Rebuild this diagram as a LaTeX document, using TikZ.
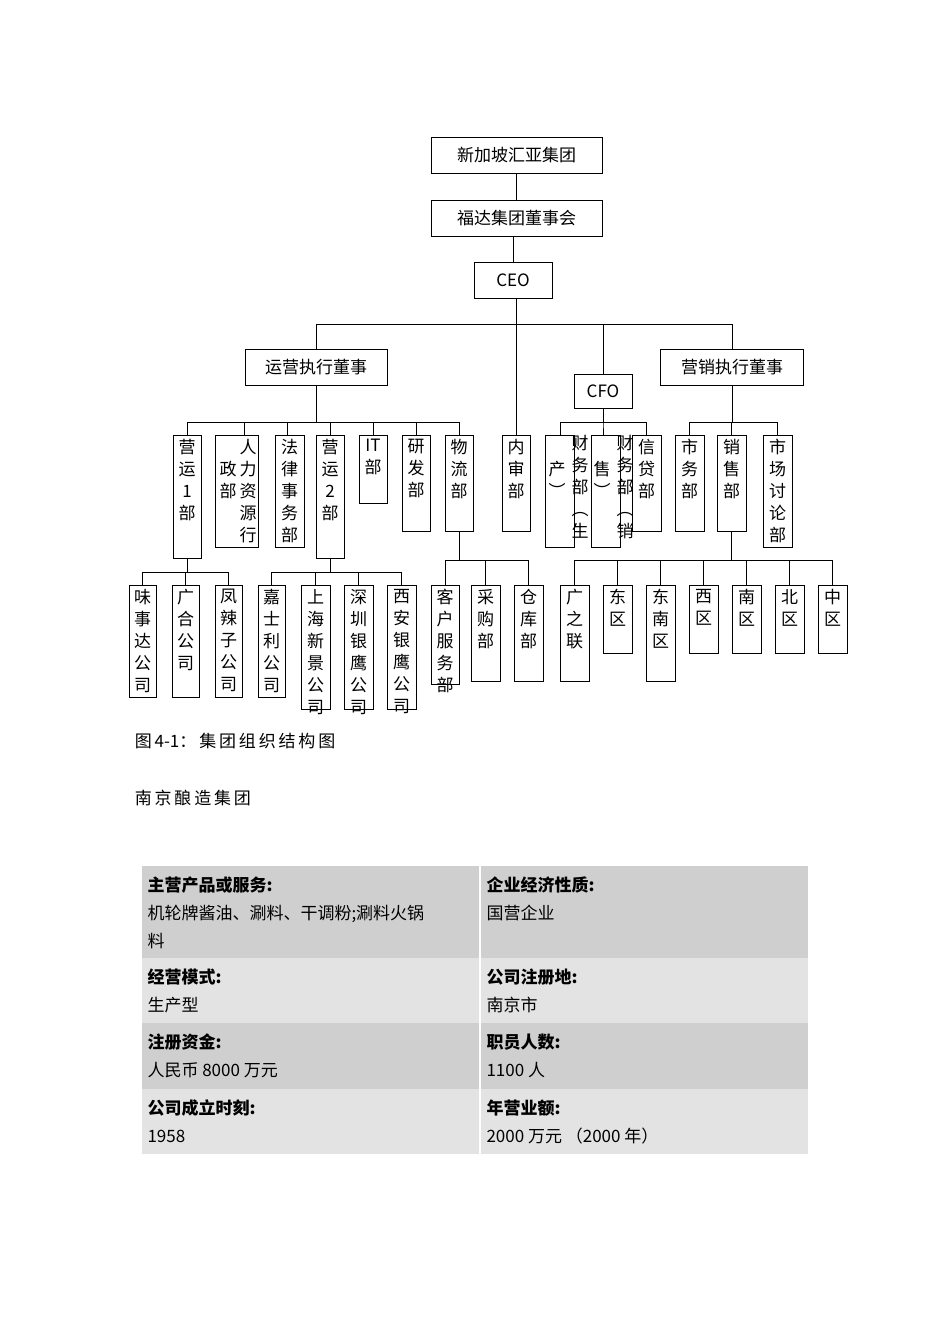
\documentclass[tikz,border=0pt]{standalone}
\usepackage{fontspec}
\setmainfont{Noto Sans CJK SC}
\begin{document}
\begin{tikzpicture}[x=1pt,y=-1pt,line width=1pt,
  bx/.style={draw,rectangle,inner sep=0pt},
  vt/.style={inner sep=0pt,align=center,font=\fontsize{17}{22}\selectfont,anchor=north},
  ht/.style={font=\fontsize{17}{20}\selectfont}]
\useasboundingbox (0,0) rectangle (950,1344);
\newcommand{\cb}[6]{\node[bx,minimum width=#4,minimum height=#5,anchor=north] (#1) at (#2,#3) {};
 \node[vt] at ([yshift=-4]#1.north) {#6};}
% top
\node[bx,minimum width=171,minimum height=36,ht] (a) at (516.5,155) {新加坡汇亚集团};
\node[bx,minimum width=171,minimum height=36,ht] (b) at (516.5,218) {福达集团董事会};
\node[bx,minimum width=78,minimum height=36,ht] (ceo) at (513,280) {CEO};
\node[bx,minimum width=142,minimum height=36,ht] (yy) at (316,367) {运营执行董事};
\node[bx,minimum width=58,minimum height=34,ht] (cfo) at (603,391) {CFO};
\node[bx,minimum width=143,minimum height=36,ht] (yx) at (732,367) {营销执行董事};
\draw (a) -- (b); \draw (b.south-|ceo) -- (ceo);
\coordinate (h1) at (516,324);
\draw (ceo.south-|h1) -- (h1);
% level 2
\cb{y1}{187}{435}{28}{123}{营\\运\\1\\部}
\node[bx,minimum width=43,minimum height=112,anchor=north] (rl) at (236.5,435) {};
\node[vt] at (248,439) {人\\力\\资\\源\\行};
\node[vt] at (228,461) {政\\部};
\cb{fl}{289.5}{435}{29}{112}{法\\律\\事\\务\\部}
\cb{y2}{330}{435}{28}{123}{营\\运\\2\\部}
\cb{it}{373}{435}{28}{68}{IT\\部}
\cb{yf}{416}{435}{28}{96}{研\\发\\部}
\cb{wl}{459}{435}{28}{96}{物\\流\\部}
\cb{ns}{516}{435}{28}{96}{内\\审\\部}
\node[bx,minimum width=29,minimum height=112,anchor=north] (cw1) at (559.5,435) {};
\node[vt] at (557,461) {产\\︶};
\node[vt] at (580,435) {财\\务\\部\\︵\\生};
\node[bx,minimum width=29,minimum height=112,anchor=north] (cw2) at (605.5,435) {};
\node[vt] at (602,461) {售\\︶};
\node[vt] at (625,435) {财\\务\\部\\︵\\销};
\cb{xd}{646.5}{435}{29}{96}{信\\贷\\部}
\cb{sw}{689.5}{435}{29}{96}{市\\务\\部}
\cb{xs}{731.5}{435}{29}{96}{销\\售\\部}
\cb{sc}{777.5}{435}{29}{112}{市\\场\\讨\\论\\部}
% level 3
\cb{w1}{142.5}{585}{27}{112}{味\\事\\达\\公\\司}
\cb{w2}{185.5}{585}{27}{112}{广\\合\\公\\司}
\cb{w3}{228.5}{585}{27}{112}{凤\\辣\\子\\公\\司}
\cb{w4}{271.5}{585}{27}{112}{嘉\\士\\利\\公\\司}
\cb{w5}{315.5}{585}{29}{124}{上\\海\\新\\景\\公\\司}
\cb{w6}{358.5}{585}{29}{124}{深\\圳\\银\\鹰\\公\\司}
\cb{w7}{401.5}{585}{29}{124}{西\\安\\银\\鹰\\公\\司}
\cb{k1}{445}{585}{28}{99}{客\\户\\服\\务\\部}
\cb{k2}{485.5}{585}{29}{96}{采\\购\\部}
\cb{k3}{528.5}{585}{29}{96}{仓\\库\\部}
\cb{q1}{574.5}{585}{29}{96}{广\\之\\联}
\cb{q2}{617.5}{585}{29}{68}{东\\区}
\cb{q3}{660.5}{585}{29}{96}{东\\南\\区}
\cb{q4}{703.5}{585}{29}{68}{西\\区}
\cb{q5}{746.5}{585}{29}{68}{南\\区}
\cb{q6}{789.5}{585}{29}{68}{北\\区}
\cb{q7}{832.5}{585}{29}{68}{中\\区}
% connectors
\foreach \c in {yy,ns,cfo,yx} \draw (h1) -| (\c.north);
\foreach \c/\x in {y1/187,rl/244,fl/287,y2/330,it/373,yf/416,wl/459} \draw (yy.south) -- (316,422) -| (\x,435);
\foreach \c/\x in {cw1/560,cw2/603,xd/646} \draw (cfo.south) -- (603,422) -| (\x,435);
\foreach \c/\x in {sw,xs,sc} \draw (yx.south) -- (732,422) -| (\c.north);
\foreach \c in {w1,w2,w3} \draw (y1.south) -- (187,572) -| (\c.north);
\foreach \c in {w4,w5,w6,w7} \draw (y2.south) -- (330,572) -| (\c.north);
\foreach \c in {k1,k2,k3} \draw (wl.south) -- (459,560) -| (\c.north);
\foreach \c in {q1,q2,q3,q4,q5,q6,q7} \draw (xs.south) -- (731.5,560) -| (\c.north);
% captions
\node[anchor=west,ht] (cap1) at (131,741) {图\,4-1：\,集\,团\,组\,织\,结\,构\,图};
\node[anchor=west,ht] (cap2) at (131,798) {南\,京\,酿\,造\,集\,团};
% table
\fill[gray!38] (142,866) rectangle (808,958);
\fill[gray!22] (142,958) rectangle (808,1023);
\fill[gray!38] (142,1023) rectangle (808,1089);
\fill[gray!22] (142,1089) rectangle (808,1154);
\draw[white,line width=1.5pt] (480,866) -- (480,1154);
\tikzset{tt/.style={anchor=north west,inner sep=0pt,align=left,font=\fontsize{17}{28}\selectfont}}
\node[tt] (t1) at (147,876) {\textbf{主营产品或服务:}\\机轮牌酱油、涮料、干调粉;涮料火锅\\料};
\node[tt] (t2) at (486,876) {\textbf{企业经济性质:}\\国营企业};
\node[tt] (t3) at (147,968) {\textbf{经营模式:}\\生产型};
\node[tt] (t4) at (486,968) {\textbf{公司注册地:}\\南京市};
\node[tt] (t5) at (147,1033) {\textbf{注册资金:}\\人民币 8000 万元};
\node[tt] (t6) at (486,1033) {\textbf{职员人数:}\\1100 人};
\node[tt] (t7) at (147,1099) {\textbf{公司成立时刻:}\\1958};
\node[tt] (t8) at (486,1099) {\textbf{年营业额:}\\2000 万元 （2000 年）};
\end{tikzpicture}
\end{document}
